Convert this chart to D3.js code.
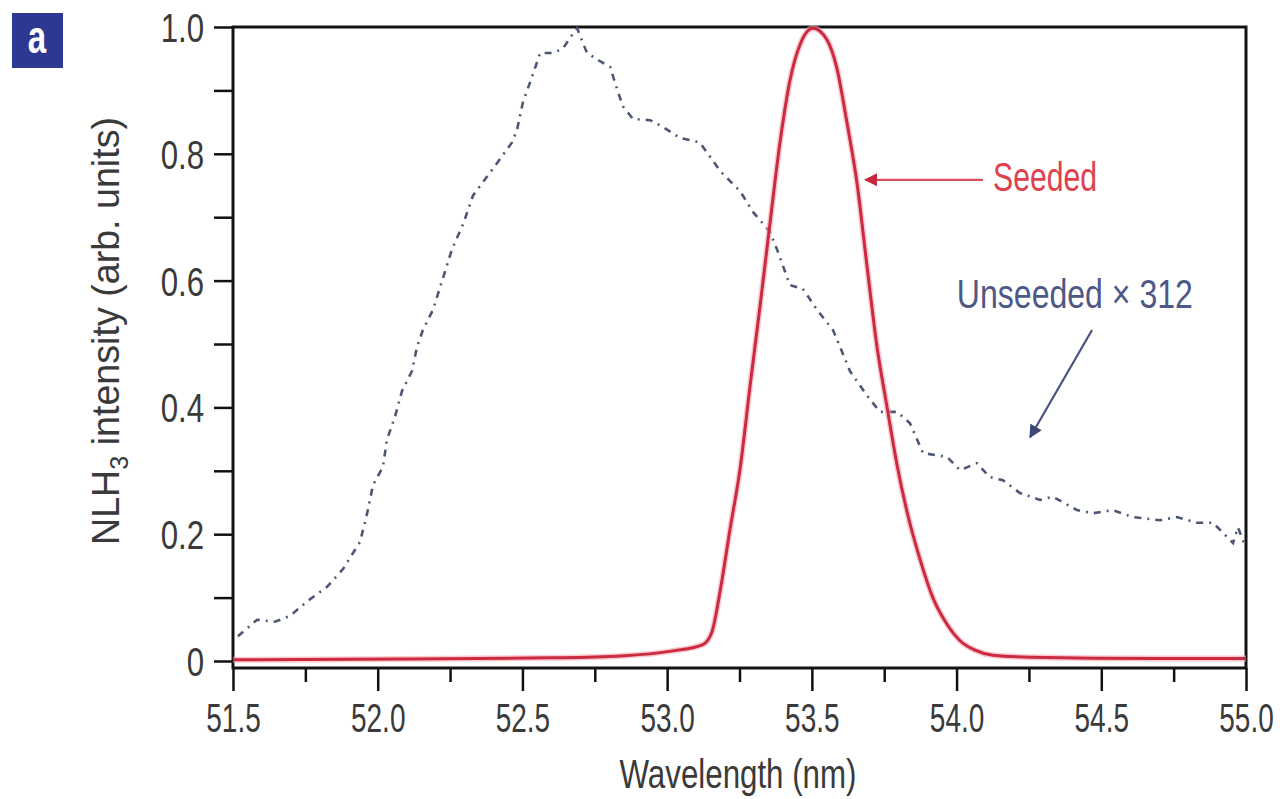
<!DOCTYPE html>
<html>
<head>
<meta charset="utf-8">
<script src="https://cdn.jsdelivr.net/npm/d3@7"></script>
<style>
    body { margin: 0; background: #fff; }
    text { font-family: "Liberation Sans", Arial, sans-serif; }
</style>
</head>
<body>
<div id="chart"></div>
<script>
// Seeded NLH3 spectrum (wavelength nm, normalised intensity)
const seededX = [51.5, 52.08, 52.6, 52.84, 53.02, 53.124, 53.155, 53.183, 53.217, 53.252, 53.286, 53.321, 53.355,
    53.39, 53.424, 53.459, 53.504, 53.552, 53.587, 53.621, 53.656, 53.69, 53.725, 53.76, 53.794, 53.829,
    53.874, 53.918, 53.967, 54.012, 54.064, 54.126, 54.254, 54.7, 55.0];
const seededY = [0.002, 0.003, 0.005, 0.008, 0.016, 0.026, 0.046, 0.11, 0.207, 0.303, 0.432, 0.56, 0.689,
    0.818, 0.915, 0.972, 0.998, 0.98, 0.934, 0.85, 0.754, 0.625, 0.496, 0.4, 0.31, 0.235,
    0.16, 0.1, 0.058, 0.032, 0.017, 0.009, 0.006, 0.004, 0.004];

// Unseeded spectrum (x 312)
const unseededX = [51.517, 51.583, 51.645, 51.697, 51.756, 51.825, 51.88, 51.939, 51.963, 51.984, 52.018, 52.032,
    52.06, 52.084, 52.118, 52.136, 52.156, 52.191, 52.222, 52.257, 52.295, 52.329, 52.371, 52.412, 52.464,
    52.481, 52.502, 52.533, 52.561, 52.606, 52.64, 52.675, 52.689, 52.723, 52.768, 52.803, 52.827, 52.847,
    52.882, 52.941, 52.986, 53.044, 53.113, 53.183, 53.252, 53.297, 53.355, 53.379, 53.424, 53.469, 53.518,
    53.573, 53.597, 53.632, 53.69, 53.735, 53.794, 53.839, 53.884, 53.967, 54.012, 54.07, 54.115, 54.16,
    54.219, 54.288, 54.333, 54.416, 54.471, 54.54, 54.609, 54.703, 54.761, 54.831, 54.886, 54.934, 54.955,
    54.972, 54.996];
const unseededY = [0.039, 0.065, 0.062, 0.071, 0.094, 0.117, 0.145, 0.188, 0.232, 0.278, 0.306, 0.349,
    0.386, 0.426, 0.457, 0.496, 0.522, 0.554, 0.599, 0.65, 0.689, 0.734, 0.76, 0.785, 0.818,
    0.837, 0.882, 0.921, 0.959, 0.959, 0.966, 0.99, 0.998, 0.959, 0.946, 0.937, 0.902, 0.875,
    0.855, 0.853, 0.842, 0.825, 0.818, 0.773, 0.741, 0.708, 0.677, 0.65, 0.593, 0.587, 0.554,
    0.522, 0.496, 0.457, 0.419, 0.393, 0.393, 0.375, 0.328, 0.322, 0.301, 0.312, 0.29, 0.285,
    0.265, 0.254, 0.259, 0.238, 0.233, 0.238, 0.227, 0.222, 0.227, 0.218, 0.218, 0.196, 0.186,
    0.211, 0.183];

const xMajorTicks = [51.5, 52.0, 52.5, 53.0, 53.5, 54.0, 54.5, 55.0];
const xMinorTicks = [51.75, 52.25, 52.75, 53.25, 53.75, 54.25, 54.75];
const yTicks = [0, 0.1, 0.2, 0.3, 0.4, 0.5, 0.6, 0.7, 0.8, 0.9, 1.0];
const yLabelled = [0, 0.2, 0.4, 0.6, 0.8, 1.0];

const width = 1280, height = 799;
const plotLeft = 233, plotRight = 1246, plotTop = 27, zeroY = 661, frameBottom = 668;

const svg = d3.select("#chart").append("svg")
    .attr("width", width)
    .attr("height", height);

const x = d3.scaleLinear().domain([51.5, 55.0]).range([plotLeft, plotRight]);
const y = d3.scaleLinear().domain([0, 1]).range([zeroY, plotTop]);

// panel letter
svg.append("rect")
    .attr("x", 12).attr("y", 13).attr("width", 51).attr("height", 55)
    .attr("fill", "#2c3891");
svg.append("text")
    .attr("transform", "translate(37,53) scale(0.72,1)")
    .attr("text-anchor", "middle")
    .attr("font-size", 46).attr("font-weight", "bold")
    .attr("fill", "#fff")
    .text("a");

// x axis - major and minor ticks
const xAxis = svg.append("g")
    .attr("transform", `translate(0,${frameBottom})`)
    .call(d3.axisBottom(x).tickValues(xMajorTicks).tickSize(23).tickPadding(0)
        .tickFormat(d3.format(".1f")));
xAxis.select(".domain").remove();
xAxis.selectAll("line").attr("stroke", "#111").attr("stroke-width", 2.5);
xAxis.selectAll("text")
    .attr("y", 0).attr("dy", null)
    .attr("transform", "translate(0,64) scale(0.7,1)")
    .attr("font-size", 40)
    .attr("fill", "#3a3a3a");

const xMinor = svg.append("g")
    .attr("transform", `translate(0,${frameBottom})`)
    .call(d3.axisBottom(x).tickValues(xMinorTicks).tickSize(14).tickFormat(""));
xMinor.select(".domain").remove();
xMinor.selectAll("line").attr("stroke", "#111").attr("stroke-width", 2.5);

// y axis
const yAxis = svg.append("g")
    .attr("transform", `translate(${plotLeft},0)`)
    .call(d3.axisLeft(y).tickValues(yTicks).tickSize(19)
        .tickFormat(d => yLabelled.some(v => Math.abs(v - d) < 1e-9) ? (d === 0 ? "0" : d3.format(".1f")(d)) : ""));
yAxis.select(".domain").remove();
yAxis.selectAll("line").attr("stroke", "#111").attr("stroke-width", 2.5);
yAxis.selectAll("text")
    .attr("x", 0).attr("dy", "0.36em")
    .attr("transform", "translate(-29,0) scale(0.78,1)")
    .attr("font-size", 40)
    .attr("fill", "#3a3a3a");

// frame
svg.append("rect")
    .attr("x", plotLeft).attr("y", plotTop)
    .attr("width", plotRight - plotLeft).attr("height", frameBottom - plotTop)
    .attr("fill", "none")
    .attr("stroke", "#141414")
    .attr("stroke-width", 3);

// curves
const line = d3.line()
    .x(d => x(d[0]))
    .y(d => y(d[1]));

const seeded = seededX.map((v, i) => [v, seededY[i]]);
const unseeded = unseededX.map((v, i) => [v, unseededY[i]]);

svg.append("path")
    .datum(unseeded)
    .attr("d", line)
    .attr("fill", "none")
    .attr("stroke", "#4e5676")
    .attr("stroke-width", 2.6)
    .attr("stroke-dasharray", "7,6,2,6");

const smooth = d3.line()
    .x(d => x(d[0]))
    .y(d => y(d[1]))
    .curve(d3.curveMonotoneX);

svg.append("path")
    .datum(seeded)
    .attr("d", smooth)
    .attr("fill", "none")
    .attr("stroke", "#f4a6b0")
    .attr("stroke-width", 6)
    .attr("opacity", 0.6);

svg.append("path")
    .datum(seeded)
    .attr("d", smooth)
    .attr("fill", "none")
    .attr("stroke", "#cc2a40")
    .attr("stroke-width", 3);

// annotations
const defs = svg.append("defs");
function arrowMarker(id, color) {
    defs.append("marker")
        .attr("id", id)
        .attr("viewBox", "0 0 10 10")
        .attr("refX", 9).attr("refY", 5)
        .attr("markerWidth", 6).attr("markerHeight", 6)
        .attr("orient", "auto")
        .append("path")
        .attr("d", "M0,0 L10,5 L0,10 Z")
        .attr("fill", color);
}
arrowMarker("arrowRed", "#c8283e");
arrowMarker("arrowBlue", "#3d4675");

svg.append("line")
    .attr("x1", x(54.091)).attr("y1", y(0.759))
    .attr("x2", x(53.685)).attr("y2", y(0.759))
    .attr("stroke", "#d8505e").attr("stroke-width", 2.2)
    .attr("marker-end", "url(#arrowRed)");

svg.append("text")
    .attr("x", x(54.126)).attr("y", y(0.741))
    .attr("font-size", 41)
    .attr("textLength", 104).attr("lengthAdjust", "spacingAndGlyphs")
    .attr("fill", "#e0404c")
    .text("Seeded");

svg.append("text")
    .attr("x", x(54.001)).attr("y", y(0.557))
    .attr("font-size", 40)
    .attr("textLength", 236).attr("lengthAdjust", "spacingAndGlyphs")
    .attr("fill", "#4e5886")
    .text("Unseeded \u00d7 312");

svg.append("line")
    .attr("x1", x(54.468)).attr("y1", y(0.522))
    .attr("x2", x(54.254)).attr("y2", y(0.353))
    .attr("stroke", "#4a5380").attr("stroke-width", 2.2)
    .attr("marker-end", "url(#arrowBlue)");

// axis titles
svg.append("text")
    .attr("x", 738).attr("y", 788)
    .attr("text-anchor", "middle")
    .attr("font-size", 40)
    .attr("textLength", 237).attr("lengthAdjust", "spacingAndGlyphs")
    .attr("fill", "#3a3a3a")
    .text("Wavelength (nm)");

const yTitle = svg.append("text")
    .attr("transform", "translate(119,331) rotate(-90)")
    .attr("text-anchor", "middle")
    .attr("font-size", 39)
    .attr("textLength", 428).attr("lengthAdjust", "spacingAndGlyphs")
    .attr("fill", "#3a3a3a");
yTitle.append("tspan").text("NLH");
yTitle.append("tspan").attr("font-size", 26).attr("dy", 9).text("3");
yTitle.append("tspan").attr("dy", -9).text(" intensity (arb. units)");
</script>
</body>
</html>
